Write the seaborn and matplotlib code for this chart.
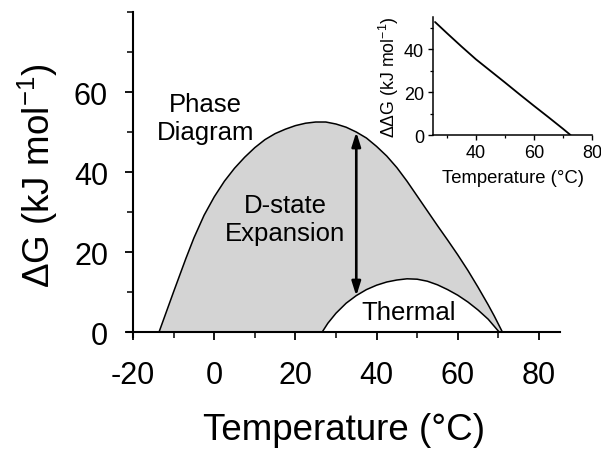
import numpy as np
import matplotlib
matplotlib.use("Agg")
import matplotlib.pyplot as plt
import seaborn as sns
from matplotlib.ticker import MultipleLocator

# ---- data ----
phase_temp = [-13.6, -10, -7, -5, -2.5, 0, 2.5, 5, 7.5, 10, 12.5, 15, 17.5, 20, 22.5,
              25, 27.5, 30, 32.5, 35, 37.5, 40, 42.5, 45, 47.5, 50, 52.5, 55, 57.5,
              60, 62.5, 65, 67.5, 69, 71]
phase_dg = [0, 10.1, 18.35, 23.55, 29.2, 33.8, 37.7, 40.95, 43.7, 46.1, 48.1, 49.6,
            50.7, 51.6, 52.2, 52.5, 52.5, 52.0, 51.2, 50.0, 48.5, 46.4, 44.0, 41.1,
            37.7, 34.0, 30.3, 26.6, 23.0, 19.3, 15.4, 11.2, 6.8, 4.0, 0]

thermal_temp = [26.6, 28, 30, 32.5, 35, 37.5, 40, 42.5, 45, 47.5, 50, 52.5, 55, 57.5,
                60, 62.5, 65, 67.5, 70.2]
thermal_dg = [0, 2.2, 4.7, 7.2, 9.1, 10.6, 11.7, 12.5, 13.0, 13.3, 13.2, 12.7, 11.8,
              10.6, 9.2, 7.5, 5.5, 3.2, 0]

ddg_temp = [25.9, 30, 35, 40, 45, 50, 55, 60, 65, 70, 72.6]
ddg = [52.7, 47.5, 41.3, 35.3, 29.9, 24.5, 19.0, 13.6, 8.3, 2.9, 0]

arrow_temp = 35
arrow_top = 50.0
arrow_bottom = 9.0

# ---- style ----
sns.set_theme(style="ticks")
plt.rcParams["font.family"] = ["Liberation Sans", "DejaVu Sans"]
plt.rcParams["mathtext.fontset"] = "custom"
plt.rcParams["mathtext.rm"] = "Liberation Sans"
plt.rcParams["mathtext.default"] = "regular"
plt.rcParams["axes.unicode_minus"] = False
for k in ("text.color", "axes.labelcolor", "xtick.color", "ytick.color",
          "xtick.labelcolor", "ytick.labelcolor"):
    plt.rcParams[k] = "black"

fig = plt.figure(figsize=(6.01, 4.52), dpi=100)
fig.patch.set_facecolor("white")

ax = fig.add_axes([0.2113, 0.2522, 0.7205, 0.719])
ax.set_facecolor("none")

px = np.array(phase_temp, dtype=float)
py = np.array(phase_dg, dtype=float)
tx = np.array(thermal_temp, dtype=float)
ty = np.array(thermal_dg, dtype=float)
ax.fill(np.concatenate([px, tx[::-1]]), np.concatenate([py, ty[::-1]]),
        color="#d4d4d4", lw=0, zorder=1)

sns.lineplot(x=phase_temp, y=phase_dg, ax=ax, color="black", lw=1.1, zorder=3)
sns.lineplot(x=thermal_temp, y=thermal_dg, ax=ax, color="black", lw=1.1, zorder=3)

ax.annotate("", xy=(arrow_temp, arrow_top), xytext=(arrow_temp, arrow_bottom),
            arrowprops=dict(arrowstyle="<|-|>,head_length=0.7,head_width=0.22",
                            color="black", lw=1.9, shrinkA=0, shrinkB=0),
            zorder=4)

ax.set_xlim(-21.5, 85.2)
ax.set_ylim(-1.25, 80)
ax.spines["left"].set_position(("data", -20))
ax.spines["bottom"].set_position(("data", 0))
ax.spines["top"].set_visible(False)
ax.spines["right"].set_visible(False)
for s in ("left", "bottom"):
    ax.spines[s].set_linewidth(1.5)
    ax.spines[s].set_color("black")

ax.set_xticks([-20, 0, 20, 40, 60, 80])
ax.set_yticks([0, 20, 40, 60])
ax.xaxis.set_minor_locator(MultipleLocator(10))
ax.yaxis.set_minor_locator(MultipleLocator(10))
ax.tick_params(axis="both", which="major", length=6, width=1.3, color="black",
               labelsize=22, direction="out")
ax.tick_params(axis="both", which="minor", length=4, width=1.1, color="black",
               direction="out")
ax.tick_params(axis="x", which="major", pad=14)
ax.tick_params(axis="y", which="major", pad=12)

ax.set_xlabel("Temperature (°C)", fontsize=26.5, labelpad=16)
ax.set_ylabel("ΔG (kJ mol$^{-1}$)", fontsize=26.5, labelpad=10)

ax.text(-2.2, 53.5, "Phase\nDiagram", fontsize=18.5, ha="center", va="center",
        linespacing=1.2)
ax.text(17.5, 28.3, "D-state\nExpansion", fontsize=18.5, ha="center", va="center",
        linespacing=1.2, zorder=5)
ax.text(48.0, 4.9, "Thermal", fontsize=18.5, ha="center", va="center", zorder=5)

# ---- inset ----
ax2 = fig.add_axes([0.7205, 0.699, 0.2646, 0.261])
ax2.set_facecolor("none")
sns.lineplot(x=ddg_temp, y=ddg, ax=ax2, color="black", lw=1.3)
ax2.set_xlim(25.2, 80)
ax2.set_ylim(0, 55)
ax2.spines["top"].set_visible(False)
ax2.spines["right"].set_visible(False)
for s in ("left", "bottom"):
    ax2.spines[s].set_linewidth(1.1)
    ax2.spines[s].set_color("black")
ax2.set_xticks([40, 60, 80])
ax2.set_yticks([0, 20, 40])
ax2.xaxis.set_minor_locator(MultipleLocator(10))
ax2.yaxis.set_minor_locator(MultipleLocator(10))
ax2.tick_params(axis="both", which="major", length=3.5, width=1.0, color="black",
                labelsize=13, direction="out", pad=3)
ax2.tick_params(axis="both", which="minor", length=2.5, width=0.9, color="black",
                direction="out")
ax2.set_xlabel("Temperature (°C)", fontsize=13.3, labelpad=6)
ax2.set_ylabel("ΔΔG (kJ mol$^{-1}$)", fontsize=12.8, labelpad=2)

fig.savefig("out.png", dpi=100)
